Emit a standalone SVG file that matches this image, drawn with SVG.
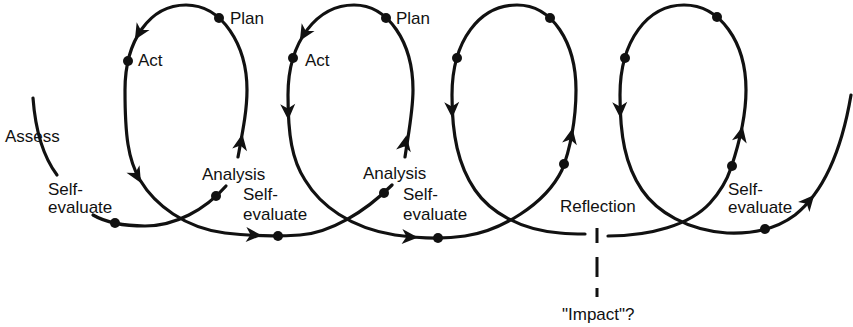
<svg xmlns="http://www.w3.org/2000/svg" width="853" height="327" viewBox="0 0 853 327">
<style>
text{font-family:"Liberation Sans",Arial,Helvetica,sans-serif;font-size:17px;fill:#111}
.curve{fill:none;stroke:#111;stroke-width:3.2;stroke-linecap:round;stroke-linejoin:round}
.dash{fill:none;stroke:#111;stroke-width:3}
.dot{fill:#111}
.ah{fill:#111}
</style>
<defs>
<path id="ah" d="M8,0 L-8,-7.5 L-3.5,0 L-8,7.5 Z"/>
</defs>
<rect width="853" height="327" fill="#fff"/>
<g id="assess"><text x="5" y="142">Assess</text></g>
<g id="selfeval1"><text x="48" y="195">Self-</text><text x="48" y="213">evaluate</text><circle class="dot" cx="115" cy="223" r="5"/></g>
<g id="analysis1"><text x="202" y="180">Analysis</text><circle class="dot" cx="216" cy="196" r="5"/></g>
<g id="plan1"><text x="230" y="24">Plan</text><circle class="dot" cx="219" cy="18" r="5"/></g>
<g id="act1"><text x="138" y="66">Act</text><circle class="dot" cx="128" cy="61" r="5"/></g>
<g id="selfeval2"><text x="243" y="200">Self-</text><text x="243" y="220">evaluate</text><circle class="dot" cx="278" cy="236" r="5"/></g>
<g id="analysis2"><text x="363" y="179">Analysis</text><circle class="dot" cx="384" cy="193" r="5"/></g>
<g id="plan2"><text x="396" y="24">Plan</text><circle class="dot" cx="386" cy="18" r="5"/></g>
<g id="act2"><text x="305" y="66">Act</text><circle class="dot" cx="293" cy="58" r="5"/></g>
<g id="selfeval3"><text x="403" y="200">Self-</text><text x="403" y="220">evaluate</text><circle class="dot" cx="438" cy="238" r="5"/></g>
<g id="loop3-right"><circle class="dot" cx="564" cy="164" r="5"/></g>
<g id="loop3-top"><circle class="dot" cx="550" cy="18" r="5"/></g>
<g id="loop3-left"><circle class="dot" cx="457" cy="58" r="5"/></g>
<g id="reflection"><text x="560" y="212">Reflection</text></g>
<g id="impact"><text x="562" y="320">"Impact"?</text></g>
<g id="loop4-right"><circle class="dot" cx="732" cy="166" r="5"/></g>
<g id="loop4-top"><circle class="dot" cx="717" cy="17" r="5"/></g>
<g id="loop4-left"><circle class="dot" cx="625" cy="58" r="5"/></g>
<g id="selfeval4"><text x="728" y="195">Self-</text><text x="728" y="213">evaluate</text><circle class="dot" cx="765" cy="229" r="5"/></g>
<g id="connectors">
<path class="curve" d="M33,98 C35,125 42,155 57,175"/>
<path class="curve" d="M93,215 C105,222 120,226 145,226 C175,226 205,210 226,186"/>
<path class="curve" d="M238,157 C243,130 247,110 247,90 C247,45 222,5 186,5 C150,5 125,40 125,90 C125,135 128,160 140,180 C155,205 185,228 225,233 C245,235.5 275,236.5 300,235 C330,233 365,212 392,185"/>
<path class="curve" d="M405,157 C409,130 413,110 413,90 C413,42 388,5 354,5 C318,5 288,40 288,95 C288,135 292,160 305,180 C320,205 350,228 395,235 C420,238.5 445,239 465,236 C500,231 545,205 562,170 C570,150 576,120 576,90 C576,42 552,5 517,5 C480,5 452,40 452,95 C452,135 458,165 475,190 C490,212 520,230 560,233 C570,234 578,234 585,234"/>
<path class="curve" d="M608,236 C650,236 690,225 710,203 C720,192 727,180 731,168 C737,150 746,120 746,90 C746,42 720,5 684,5 C648,5 620,40 620,95 C620,135 625,165 642,190 C657,212 687,230 727,233 C750,234 775,230 795,215 C820,195 840,160 851,95"/>
<path class="dash" d="M597,228 V297" stroke-dasharray="15 14 20 11 9"/>
<use href="#ah" class="ah" transform="translate(241,142) rotate(-80)"/>
<use href="#ah" class="ah" transform="translate(139,33) rotate(121)"/>
<use href="#ah" class="ah" transform="translate(137,176) rotate(60)"/>
<use href="#ah" class="ah" transform="translate(254,235) rotate(3)"/>
<use href="#ah" class="ah" transform="translate(405,143) rotate(-79)"/>
<use href="#ah" class="ah" transform="translate(304,34) rotate(121)"/>
<use href="#ah" class="ah" transform="translate(288,112) rotate(88)"/>
<use href="#ah" class="ah" transform="translate(410,237) rotate(3)"/>
<use href="#ah" class="ah" transform="translate(571,136) rotate(-79)"/>
<use href="#ah" class="ah" transform="translate(452,110) rotate(88)"/>
<use href="#ah" class="ah" transform="translate(741,134) rotate(-78)"/>
<use href="#ah" class="ah" transform="translate(620,110) rotate(88)"/>
<use href="#ah" class="ah" transform="translate(809,201) rotate(-49)"/>
</g>
</svg>
